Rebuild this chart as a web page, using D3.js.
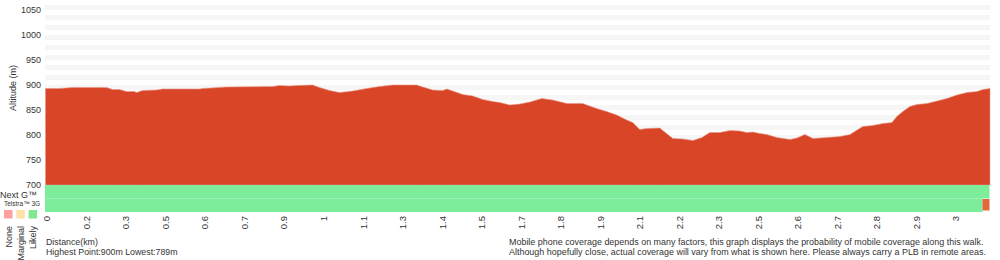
<!DOCTYPE html>
<html>
<head>
<meta charset="utf-8">
<script src="https://cdn.jsdelivr.net/npm/d3@7"></script>
<style>
  body { margin: 0; background: #fff; }
  svg { display: block; font-family: "Liberation Sans", Arial, sans-serif; }
  text { fill: #333; }
</style>
</head>
<body>
<svg id="chart" width="1000" height="260"></svg>
<script>
// distance along the walk (km) and altitude (m)
const distance = [0, 0.046, 0.089, 0.188, 0.201, 0.221, 0.244, 0.267, 0.293, 0.300, 0.320, 0.366, 0.386,
  0.508, 0.518, 0.597, 0.748, 0.771, 0.804, 0.827, 0.880, 0.903, 0.936, 0.969, 1.012, 1.058, 1.101,
  1.144, 1.223, 1.243, 1.276, 1.309, 1.322, 1.342, 1.375, 1.408, 1.441, 1.474, 1.497, 1.530, 1.563,
  1.596, 1.635, 1.671, 1.718, 1.770, 1.816, 1.849, 1.882, 1.915, 1.935, 1.958, 1.981, 2.024, 2.034,
  2.067, 2.100, 2.133, 2.163, 2.189, 2.222, 2.255, 2.288, 2.311, 2.331, 2.354, 2.377, 2.410, 2.453,
  2.476, 2.502, 2.529, 2.575, 2.618, 2.651, 2.674, 2.693, 2.726, 2.759, 2.789, 2.805, 2.825, 2.848,
  2.871, 2.904, 2.937, 2.970, 3.003, 3.036, 3.069, 3.089, 3.112];
const altitude = [893, 893, 895, 895, 895, 891, 891, 887, 887, 885, 889, 890, 892,
  892, 893, 896, 897, 899, 898, 899, 900, 895, 889, 885, 888, 893, 897,
  900, 900, 896, 890, 889, 892, 888, 881, 878, 871, 867, 865, 860, 862,
  866, 873, 870, 863, 863, 853, 847, 840, 830, 825, 811, 813, 814, 809,
  793, 792, 789, 795, 805, 805, 809, 808, 805, 806, 803, 801, 795, 791,
  794, 801, 793, 795, 797, 801, 810, 817, 819, 823, 825, 837, 847, 857,
  861, 863, 868, 873, 880, 885, 887, 891, 893];

const altTicks = [700, 750, 800, 850, 900, 950, 1000, 1050];
const distLabels = ["0", "0.2", "0.3", "0.5", "0.6", "0.7", "0.9", "1", "1.1", "1.3", "1.4", "1.5",
  "1.7", "1.8", "1.9", "2.1", "2.2", "2.3", "2.5", "2.6", "2.7", "2.8", "2.9", "3"];

// coverage rows: segment ends (km) and level
const coverageRows = ["Next G\u2122", "Telstra\u2122 3G"];
const nextGSegments = [{ from: 0, to: 3.112, level: "Likely" }];
const telstraSegments = [{ from: 0, to: 3.089, level: "Likely" }, { from: 3.089, to: 3.112, level: "None" }];

const levels = ["None", "Marginal", "Likely"];
const levelColor = { None: "#e5683a", Marginal: "#ffd27a", Likely: "#7ded9b" };
const legendColor = { None: "#ff9f9f", Marginal: "#ffe0a6", Likely: "#80e890" };

const svg = d3.select("#chart");
const plotLeft = 45, plotRight = 990, plotTop = 5, plotBottom = 185;

const x = d3.scaleLinear().domain([0, 3]).range([plotLeft + 0.5, 956]);
const y = d3.scaleLinear().domain([700, 1060]).range([plotBottom, plotTop]);

// background stripes every 10 m
const stripes = d3.range(1060, 700, -20);
svg.append("g").selectAll("rect").data(stripes).join("rect")
  .attr("x", plotLeft).attr("width", plotRight - plotLeft)
  .attr("y", d => y(d)).attr("height", d => y(d - 10) - y(d))
  .attr("fill", "#f6f6f6");

const pts = distance.map((d, i) => [d, altitude[i]]);
const area = d3.area().x(d => x(d[0])).y0(y(700)).y1(d => y(d[1]));
svg.append("path").datum(pts)
  .attr("d", area)
  .attr("fill", "#d94627")
  .attr("stroke", "#e8958a")
  .attr("stroke-width", 0.6);

// y axis labels
svg.append("g").selectAll("text").data(altTicks).join("text")
  .attr("x", 41).attr("y", d => y(d)).attr("dy", "0.3em")
  .attr("text-anchor", "end").attr("font-size", 9)
  .text(d => d);

svg.append("text")
  .attr("transform", `translate(16,${88}) rotate(-90)`)
  .attr("text-anchor", "middle").attr("font-size", 9)
  .text("Altitude (m)");

// coverage bands
const rowH = 13.5;
[nextGSegments, telstraSegments].forEach((segs, r) => {
  svg.append("g").selectAll("rect").data(segs).join("rect")
    .attr("x", d => x(d.from) - 0.5)
    .attr("width", d => x(d.to) - x(d.from))
    .attr("y", d => plotBottom + r * rowH + (d.level === "None" ? 0.5 : 0))
    .attr("height", d => d.level === "None" ? rowH - 2 : rowH)
    .attr("fill", d => levelColor[d.level]);
});

svg.append("text").attr("x", 0).attr("y", 198).attr("font-size", 9).text(coverageRows[0]);
svg.append("text").attr("x", 4).attr("y", 206).attr("font-size", 6.5).text(coverageRows[1]);

// legend
const lg = svg.append("g").selectAll("g").data(levels).join("g")
  .attr("transform", (d, i) => `translate(${4 + i * 12.3},210)`);
lg.append("rect").attr("width", 8.5).attr("height", 8.5).attr("fill", d => legendColor[d]);
lg.append("text")
  .attr("transform", "translate(4.5,16) rotate(-90)")
  .attr("text-anchor", "end").attr("dy", "0.35em").attr("font-size", 9)
  .text(d => d);

// distance labels
const xt = d3.scalePoint().domain(distLabels).range([47, 956]);
svg.append("g").selectAll("text").data(distLabels).join("text")
  .attr("transform", d => `translate(${xt(d)},216) rotate(-90)`)
  .attr("text-anchor", "end").attr("dy", "0.35em").attr("font-size", 9.5)
  .text(d => d);

svg.append("text").attr("x", 46).attr("y", 245).attr("font-size", 8.8).text("Distance(km)");
svg.append("text").attr("x", 46).attr("y", 255).attr("font-size", 8.8)
  .text(`Highest Point:${d3.max(altitude)}m Lowest:${d3.min(altitude)}m`);

const note = [
  "Mobile phone coverage depends on many factors, this graph displays the probability of mobile coverage along this walk.",
  "Although hopefully close, actual coverage will vary from what is shown here. Please always carry a PLB in remote areas."
];
const noteText = svg.append("g").selectAll("text").data(note).join("text")
  .attr("x", 509).attr("y", (d, i) => 245 + i * 10).attr("font-size", 10)
  .text(d => d);
// shrink the note so the longer line ends near the right edge
const widest = d3.max(noteText.nodes(), n => n.getComputedTextLength());
noteText.attr("font-size", 10 * 478 / widest);
</script>
</body>
</html>
